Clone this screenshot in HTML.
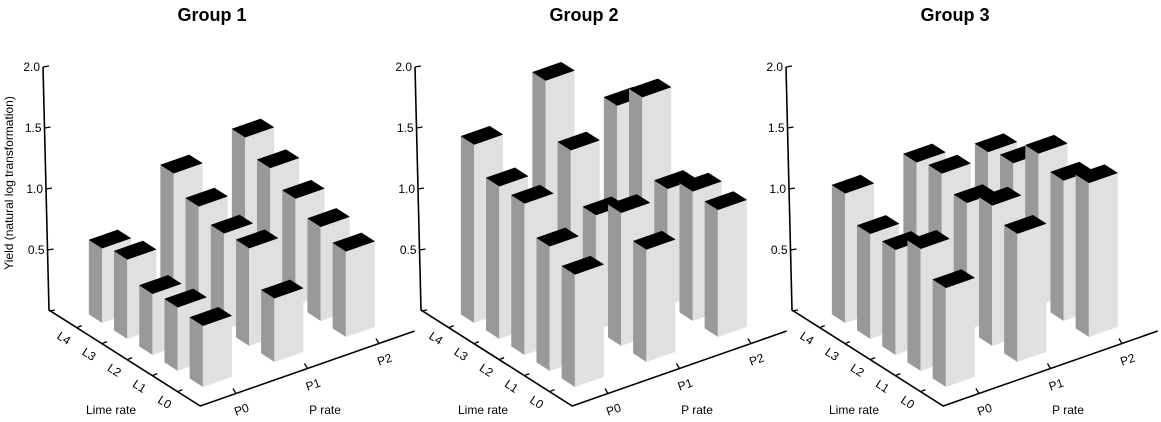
<!DOCTYPE html>
<html><head><meta charset="utf-8"><style>
html,body{margin:0;padding:0;background:#fff;}
svg{display:block;font-family:"Liberation Sans",Arial,sans-serif;}
</style></head><body>
<svg id="chart" width="1161" height="422" viewBox="0 0 1161 422" xmlns="http://www.w3.org/2000/svg"></svg>
<script>
const groupNames = ["Group 1","Group 2","Group 3"];
const pCats = ["P0","P1","P2"];
const limeCats = ["L0","L1","L2","L3","L4"];
const yTicks = [0.5,1.0,1.5,2.0];
const yTickLabels = ["0.5","1.0","1.5","2.0"];
// values[p][lime index L0..L4]
const group1Values = [[0.50,0.52,0.50,0.65,0.61],[0.52,0.80,0.79,0.88,1.02],[0.70,0.77,0.87,0.99,1.11]];
const group2Values = [[0.92,1.02,1.24,1.25,1.46],[0.92,1.09,0.94,1.34,1.78],[1.04,1.06,0.95,1.57,1.37]];
const group3Values = [[0.81,1.00,0.86,0.86,1.06],[1.05,1.15,1.04,1.15,1.11],[1.26,1.15,1.24,1.03,0.99]];
const allValues = [group1Values, group2Values, group3Values];

const svg = document.getElementById('chart');
const NS = "http://www.w3.org/2000/svg";
const U = [25.2,16], V = [71.5,-25], K = 122, HU = 0.26, HV = 0.2;
const groupOffsets = [0,372,743];
function mk(tag, attrs, parent){const e=document.createElementNS(NS,tag);for(const k in attrs)e.setAttribute(k,attrs[k]);(parent||svg).appendChild(e);return e;}
function ground(ox,s,t){return [ox+49+s*U[0]+t*V[0], 310+s*U[1]+t*V[1]];}
function sOf(li){return 5-li;}
function tOf(pi){return 0.5+pi;}
function pts(a){return a.map(p=>p[0].toFixed(1)+","+p[1].toFixed(1)).join(" ");}

groupNames.forEach((gn,gi)=>{
  const ox = groupOffsets[gi];
  const g = mk('g',{});
  
  
  const title = mk('text',{x:ox+212,y:21,'text-anchor':'middle','font-size':'18','font-weight':'bold',fill:'#000'},g);
  title.textContent = gn;
  
  
  // axes
  const O = ground(ox,0,0), C = ground(ox,6,0), E = ground(ox,6,3);
  const axisTop = 311 - 2.0*K;
  const ax = mk('polyline',{points:pts([[ox+43,axisTop],[O[0],O[1]],C,E]),fill:'none',stroke:'#000','stroke-width':'1.6'},g);
  
  
  // y ticks
  [0].concat(yTicks).forEach((v,i)=>{
    const y = 311 - v*K, x = ox+43 + (v===0?6:6*(1-v/2));
    const t = mk('line',{x1:x,y1:y,x2:x+6,y2:y-1,stroke:'#000','stroke-width':'1.3'},g);
    
    
    if(v>0){
      const lb = mk('text',{x:x-3,y:y+4,'text-anchor':'end','font-size':'12',fill:'#000'},g);
      lb.textContent = yTickLabels[i-1];
      
      
    }
  });
  if(gi===0){
    const yt = mk('text',{x:0,y:0,'text-anchor':'middle','font-size':'12',fill:'#000',transform:'translate(13,183) rotate(-90)'},g);
    yt.textContent = 'Yield (natural log transformation)';
    
    
  }
  // lime ticks
  limeCats.forEach((lc,li)=>{
    const p = ground(ox,sOf(li)+0.1,0);
    const tk = mk('line',{x1:p[0],y1:p[1],x2:p[0]+5,y2:p[1]-2,stroke:'#000','stroke-width':'1.3'},g);
    
    
    const lb = mk('text',{x:0,y:0,'text-anchor':'middle','font-size':'12',fill:'#000',transform:`translate(${(p[0]-15).toFixed(1)},${(p[1]+14).toFixed(1)}) rotate(33)`},g);
    lb.textContent = lc;
    
    
  });
  const lt = mk('text',{x:ox+111,y:414,'text-anchor':'middle','font-size':'12',fill:'#000'},g);
  lt.textContent='Lime rate';
  
  
  pCats.forEach((pc,pi)=>{
    const p = ground(ox,6,tOf(pi));
    const tk = mk('line',{x1:p[0],y1:p[1],x2:p[0]-3,y2:p[1]-5,stroke:'#000','stroke-width':'1.3'},g);
    
    
    const lb = mk('text',{x:0,y:0,'text-anchor':'middle','font-size':'12',fill:'#000',transform:`translate(${(p[0]+7).toFixed(1)},${(p[1]+20).toFixed(1)}) rotate(-19)`},g);
    lb.textContent = pc;
    
    
  });
  const pt = mk('text',{x:ox+325,y:414,'text-anchor':'middle','font-size':'12',fill:'#000'},g);
  pt.textContent='P rate';
  
  
  // bars
  const vals = allValues[gi];
  const list = [];
  vals.forEach((row,pi)=>row.forEach((v,li)=>{const c=ground(ox,sOf(li),tOf(pi));list.push({c,v,pi,li});}));
  list.sort((a,b)=>a.c[1]-b.c[1]);
  list.forEach(b=>{
    const c=b.c, h=b.v*K;
    const off=(a,bb)=>[c[0]+a*U[0]+bb*V[0], c[1]+a*U[1]+bb*V[1]];
    const L=off(-HU,-HV), F=off(HU,-HV), R=off(HU,HV), B=off(-HU,HV);
    const up=p=>[p[0],p[1]-h];
    const bg = mk('g',{},g);
    
    
    mk('polygon',{points:pts([L,F,up(F),up(L)]),fill:'#999999',stroke:'#999999','stroke-width':'0.5'},bg);
    mk('polygon',{points:pts([F,R,up(R),up(F)]),fill:'#e0e0e0',stroke:'#e0e0e0','stroke-width':'0.5'},bg);
    mk('polygon',{points:pts([up(L),up(F),up(R),up(B)]),fill:'#000',stroke:'#000','stroke-width':'0.5'},bg);
  });
});
</script>
</body></html>
